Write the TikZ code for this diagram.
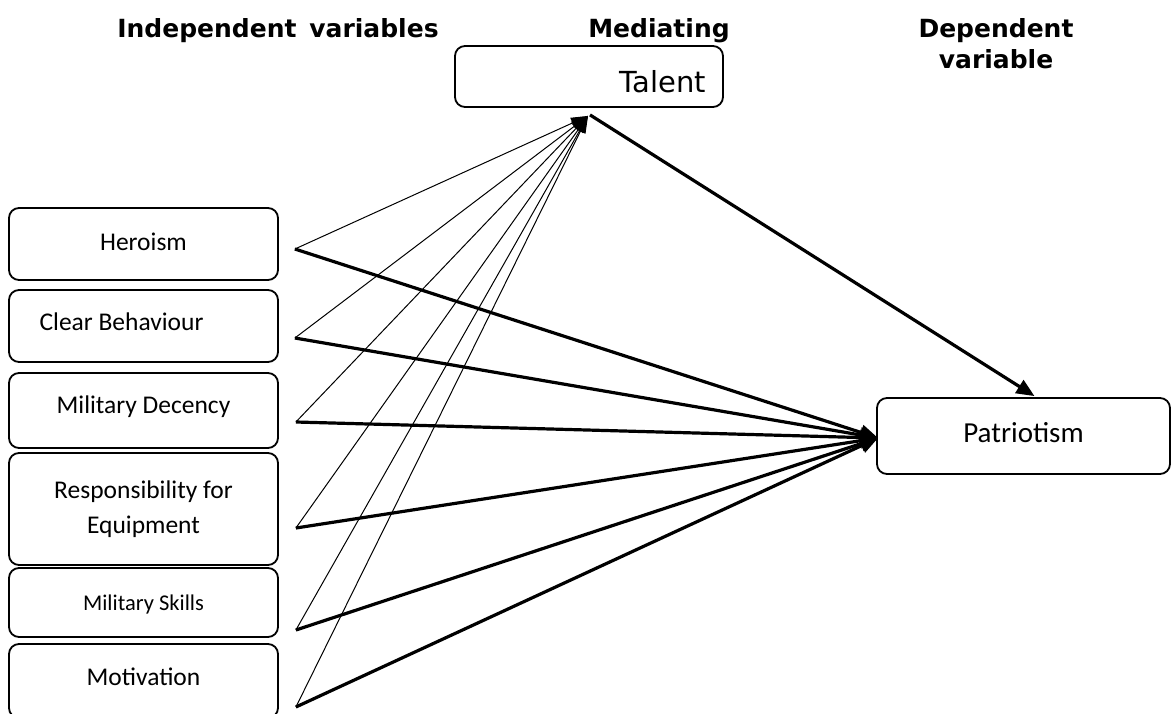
\documentclass[tikz,border=0pt]{standalone}
\usepackage{fontspec}
\setmainfont{Carlito}
\newfontfamily\verd{DejaVu Sans}
\usetikzlibrary{arrows.meta}
\begin{document}
\begin{tikzpicture}[x=1pt,y=-1pt,
  lboxbase/.style={draw,line width=1.8pt,rounded corners=10pt,minimum width=269pt,
    inner sep=0pt,align=center,font=\fontsize{25.5}{35}\selectfont},
  lbox/.style={lboxbase,text height=18pt,text depth=6pt},
  title/.style={anchor=base,font=\verd\bfseries\fontsize{25}{31}\selectfont,align=center},
  thin/.style={line width=1pt,-{Triangle[length=17pt,width=11pt]}},
  thick/.style={line width=3.2pt,-{Triangle[length=18pt,width=15pt]}}]
\useasboundingbox (0,0) rectangle (1171,713);

% titles
\node[title] (tind) at (278,37) {Independent\, variables};
\node[title] (tmed) at (659,37) {Mediating};
\node[title] (tdep) at (996,68) {Dependent\\variable};

% mediator and dependent
\node[draw,line width=1.8pt,rounded corners=10pt,minimum width=268pt,minimum height=61pt,
  inner sep=0pt,font=\verd\fontsize{29}{35}\selectfont,text height=31pt,text depth=0pt]
  (talent) at (589,76.5) {\hspace*{148pt}Talent};
\node[draw,line width=1.8pt,rounded corners=10pt,minimum width=293pt,minimum height=76pt,
  inner sep=0pt,font=\fontsize{29}{35}\selectfont,text height=18pt,text depth=6pt]
  (patriot) at (1023.5,436) {Patriotism};

% independent variables
\node[lbox,minimum height=72pt] (hero) at (143.5,244) {Heroism};
\node[lbox,minimum height=72pt,text depth=10pt] (clear) at (143.5,326) {Clear Behaviour\hspace*{44pt}};
\node[lbox,minimum height=75pt,text depth=12pt,text height=17pt] (decency) at (143.5,410.5) {Military Decency};
\node[lboxbase,minimum height=112pt] (resp) at (143.5,509) {Responsibility for\\Equipment};
\node[lbox,minimum height=69pt,font=\fontsize{22.5}{30}\selectfont,text depth=3pt] (skills) at (143.5,602.5) {Military Skills};
\node[lbox,minimum height=74pt,text depth=10pt] (motiv) at (143.5,681) {Motivation};

% connector ends
\coordinate (tin) at ([xshift=-1pt,yshift=-8pt]talent.south);
\coordinate (tout) at ([xshift=1pt,yshift=-7pt]talent.south);
\coordinate (pin) at ([xshift=2pt,yshift=-2pt]patriot.west);
\coordinate (ptop) at ([xshift=11pt,yshift=1pt]patriot.north);
\coordinate (oh) at ([xshift=16pt,yshift=-5pt]hero.east);
\coordinate (oc) at ([xshift=16pt,yshift=-12pt]clear.east);
\coordinate (od) at ([xshift=17pt,yshift=-11.5pt]decency.east);
\coordinate (or) at ([xshift=17pt,yshift=-19pt]resp.east);
\coordinate (os) at ([xshift=17pt,yshift=-27.5pt]skills.east);
\coordinate (om) at ([xshift=17pt,yshift=-26pt]motiv.east);

% thin paths to Talent
\foreach \o in {oh,oc,od,or,os,om} \draw[thin] (\o) -- (tin);
% thick paths to Patriotism
\foreach \o in {oh,oc,od,or,os,om} \draw[thick] (\o) -- (pin);
\draw[thick] (tout) -- (ptop);
\end{tikzpicture}
\end{document}
